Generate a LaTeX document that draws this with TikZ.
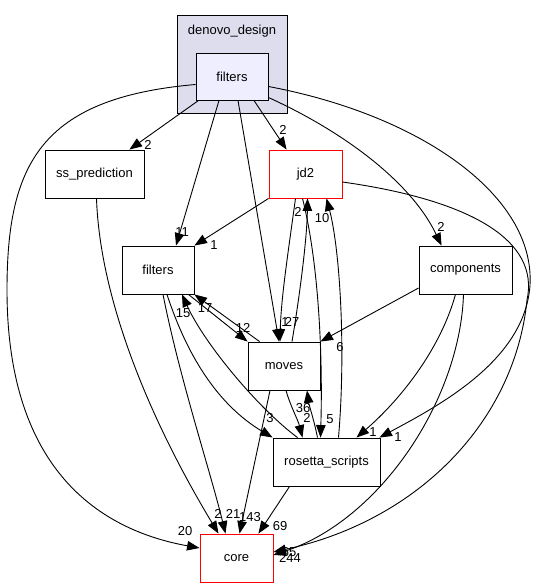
\documentclass[tikz,border=0pt]{standalone}
\usepackage{fontspec}
\setmainfont{Liberation Sans}
\usetikzlibrary{arrows.meta,calc}
\definecolor{clusterfill}{HTML}{DDDDEE}
\definecolor{dirfill}{HTML}{EEEEFF}
\begin{document}
\begin{tikzpicture}[x=1pt,y=-1pt,
  box/.style={draw=black, line width=0.9pt, rectangle, minimum height=48pt, inner sep=0pt, fill=white, font=\fontsize{13}{15}\selectfont},
  redbox/.style={box, draw=red},
  dep/.style={line width=0.9pt, -{Triangle[length=12.5pt,width=9.5pt]}},
  lbl/.style={inner sep=0pt, font=\fontsize{13}{15}\selectfont}]
\useasboundingbox (0,0) rectangle (538,588);

% cluster
\node[draw=black, line width=0.9pt, fill=clusterfill, minimum width=110pt, minimum height=98pt, inner sep=0pt] (clus) at (232,64) {};
\node[lbl] (clustitle) at (232,31) {denovo\_design};

% nodes
\node[box, fill=dirfill, minimum width=72pt, minimum height=47pt] (ftop) at (232,76.5) {filters};
\node[box, minimum width=99pt] (ss) at (94.5,174) {ss\_prediction};
\node[redbox, minimum width=73pt] (jd2) at (305.5,174) {jd2};
\node[box, minimum width=72pt] (fmid) at (158,270) {filters};
\node[box, minimum width=93pt] (comp) at (465.5,270) {components};
\node[box, minimum width=72pt] (moves) at (284,366) {moves};
\node[box, minimum width=107pt] (ros) at (326.5,462) {rosetta\_scripts};
\node[redbox, minimum width=73pt] (core) at (236.5,558) {core};

% edges from top filters
\draw[dep] ($(ftop.south west)+(3,0)$) -- ($(ss.north east)+(-15,0)$);
\draw[dep] ($(ftop.south)+(-13,0)$) -- ($(fmid.north)+(18,0)$);
\draw[dep] ($(ftop.south)+(6,0)$) -- ($(moves.north)+(-5,0)$);
\draw[dep] ($(ftop.south)+(22,0)$) -- ($(jd2.north west)+(18,0)$);
\draw[dep] ($(ftop.west)+(0,8)$) .. controls (40,98) and (7,165) .. (7,290) .. controls (7,470) and (100,530) .. ($(core.west)+(0,-10)$);
\draw[dep] ($(ftop.east)+(0,21)$) .. controls (340,130) and (410,180) .. ($(comp.north west)+(23,0)$);
\draw[dep] ($(ftop.east)+(0,10)$) .. controls (420,115) and (535,195) .. (530,285) .. controls (525,360) and (440,405) .. ($(ros.north east)+(-1,0)$);

% edges from jd2
\draw[dep] (jd2.south west) -- (fmid.north east);
\draw[dep] ($(jd2.south)+(-10,0)$) .. controls (287,260) and (281,300) .. ($(moves.north)+(-4,0)$);
\draw[dep] ($(jd2.south)+(-3,0)$) .. controls (318,260) and (323,350) .. ($(ros.north)+(-6,0)$);
\draw[dep] ($(jd2.east)+(0,8)$) .. controls (470,200) and (540,240) .. (527,300) .. controls (515,420) and (420,520) .. ($(core.east)+(0,-6)$);

% edges into jd2
\draw[dep] ($(moves.north)+(8,0)$) .. controls (299,300) and (307,240) .. ($(jd2.south)+(2,0)$);
\draw[dep] ($(ros.north)+(12,0)$) .. controls (346,350) and (340,250) .. ($(jd2.south)+(21,0)$);

% filters (mid) <-> moves
\draw[dep] ($(fmid.south east)+(-6,0)$) -- (moves.north west);
\draw[dep] ($(moves.north west)+(12,0)$) -- (fmid.south east);

% filters (mid) <-> rosetta_scripts
\draw[dep] ($(fmid.south)+(9,0)$) .. controls (195,380) and (235,415) .. (ros.north west);
\draw[dep] ($(ros.north west)+(25,0)$) .. controls (260,410) and (205,345) .. ($(fmid.south)+(24,0)$);

% into core
\draw[dep] ($(fmid.south)+(5,0)$) .. controls (180,380) and (210,470) .. ($(core.north)+(-11,0)$);
\draw[dep] ($(ss.south)+(2,0)$) .. controls (100,300) and (150,420) .. ($(core.north)+(-18,0)$);
\draw[dep] ($(moves.south)+(-14,0)$) -- ($(core.north)+(3,0)$);
\draw[dep] ($(ros.south west)+(17,0)$) -- ($(core.north east)+(-15,0)$);
\draw[dep] ($(comp.south)+(-2,0)$) .. controls (460,400) and (380,520) .. ($(core.east)+(0,-3)$);

% moves <-> rosetta_scripts
\draw[dep] ($(moves.south)+(2,0)$) .. controls (290,405) and (298,420) .. ($(ros.north)+(-24,0)$);
\draw[dep] ($(ros.north)+(-9,0)$) .. controls (314,420) and (309,405) .. ($(moves.south)+(23,0)$);

% components
\draw[dep] ($(comp.west)+(0,18)$) -- (moves.north east);
\draw[dep] ($(comp.south)+(-10,0)$) .. controls (440,350) and (400,400) .. ($(ros.north)+(30,0)$);

% labels
\node[lbl] (l1) at (148,145) {2};
\node[lbl] (l2) at (182,232) {11};
\node[lbl] (l3a) at (285,322) {1};
\node[lbl] (l3) at (292,322) {27};
\node[lbl] (l4) at (283,130) {2};
\node[lbl] (l5) at (185,531) {20};
\node[lbl] (l6) at (441,227) {2};
\node[lbl] (l7) at (398,437) {1};
\node[lbl] (l8) at (214,245) {1};
\node[lbl] (l9) at (298,212) {2};
\node[lbl] (l10) at (330,419) {5};
\node[lbl] (l11) at (322,218) {10};
\node[lbl] (l12) at (290,558) {244};
\node[lbl] (l13) at (289,552) {65};
\node[lbl] (l14) at (243,328) {12};
\node[lbl] (l15) at (205,308) {17};
\node[lbl] (l16) at (270,418) {3};
\node[lbl] (l17) at (183,313) {15};
\node[lbl] (l18) at (233,514) {21};
\node[lbl] (l19) at (218,514) {2};
\node[lbl] (l20) at (250,517) {143};
\node[lbl] (l21) at (307,418) {2};
\node[lbl] (l22) at (303,408) {36};
\node[lbl] (l23) at (280,526) {69};
\node[lbl] (l24) at (340,347) {6};
\node[lbl] (l25) at (373,432) {1};
\end{tikzpicture}
\end{document}
